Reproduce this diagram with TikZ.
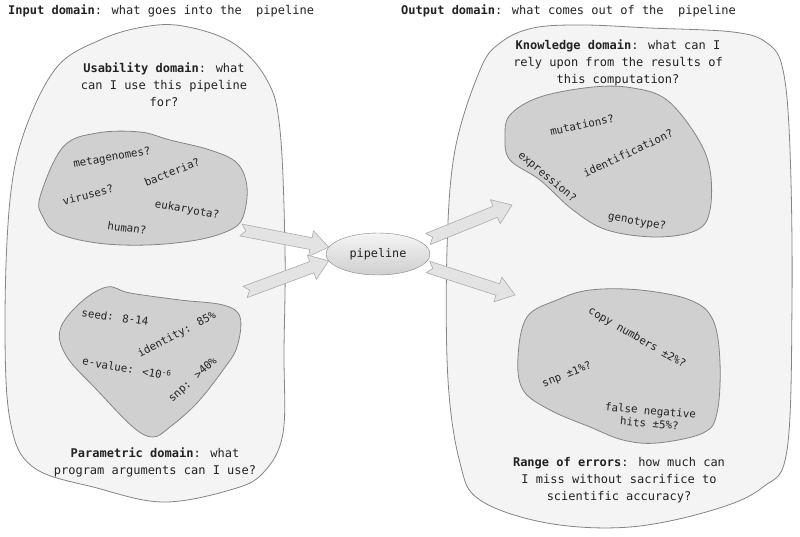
\documentclass[tikz,border=0pt]{standalone}
\usepackage{fontspec}
\setmainfont{DejaVu Sans Mono}
\usetikzlibrary{calc,shapes.geometric}

\definecolor{inkgray}{HTML}{222222}
\definecolor{edgegray}{HTML}{858585}
\definecolor{outerfill}{HTML}{F4F4F4}
\definecolor{innerfill}{HTML}{D0D0D0}

% fat block arrow from #1 to #2
\newcommand\fatarrow[2]{%
  \filldraw[fatarrow]
    ($(#1)!6pt!90:(#2)$) -- ($(#2)!18pt!(#1)!6pt!90:(#2)$)
    -- ($(#2)!18pt!(#1)!13pt!90:(#2)$) -- (#2)
    -- ($(#2)!18pt!(#1)!13pt!-90:(#2)$) -- ($(#2)!18pt!(#1)!6pt!-90:(#2)$)
    -- ($(#1)!6pt!-90:(#2)$) -- ($(#1)!5pt!(#2)$) -- cycle;}

\begin{document}
\begin{tikzpicture}[x=1pt,y=-1pt,
    outerblob/.style={draw=edgegray,fill=outerfill,line width=0.8pt},
    innerblob/.style={draw=edgegray,fill=innerfill,line width=0.8pt},
    fatarrow/.style={draw=gray!65,fill=gray!22,line width=0.6pt,line join=round},
    titletext/.style={text=inkgray,font=\fontsize{12}{14}\selectfont,anchor=west,inner sep=0pt},
    domaintext/.style={text=inkgray,font=\fontsize{12}{17}\selectfont,align=center,inner sep=0pt},
    tagtext/.style={text=inkgray,font=\fontsize{10.8}{13}\selectfont,inner sep=0pt,align=center},
    pipenode/.style={ellipse,draw=edgegray,top color=gray!8,bottom color=gray!38,
      minimum width=104pt,minimum height=42pt,text=inkgray,font=\fontsize{11.8}{14}\selectfont}]
  \useasboundingbox[fill=white] (0,0) rectangle (800,536);

  % Titles
  \node[titletext] (intitle) at (8,11) {\textbf{Input domain}: what goes into the\ \ pipeline};
  \node[titletext] (outtitle) at (401,11) {\textbf{Output domain}: what comes out of the\ \ pipeline};

  % Outer regions
  \draw[outerblob] plot[smooth cycle,tension=0.6] coordinates {
    (25,130) (57,67) (100,40) (143,27) (183,26) (233,43) (267,80) (280,130)
    (285,250) (284,350) (283,433) (263,473) (230,490) (163,502) (97,488)
    (33,467) (10,420) (5,320) (10,200)};
  \draw[outerblob] plot[smooth cycle,tension=0.6] coordinates {
    (480,70) (500,43) (533,28) (583,25) (650,28) (733,32) (767,43) (783,70)
    (790,150) (792,300) (787,450) (763,487) (713,510) (630,527) (547,523)
    (480,500) (460,463) (448,380) (447,250) (455,150)};

  % Inner regions
  \draw[innerblob] plot[smooth cycle,tension=0.6] coordinates {
    (40,197) (63,147) (97,133) (140,132) (170,140) (210,150) (237,163)
    (247,187) (243,217) (230,230) (197,240) (147,245) (97,243) (57,233) (43,217)};
  \draw[innerblob] plot[smooth cycle,tension=0.6] coordinates {
    (60,330) (80,303) (107,287) (130,293) (180,300) (223,305) (240,317)
    (237,347) (223,370) (197,403) (170,427) (153,437) (133,427) (97,390) (67,357)};
  \draw[innerblob] plot[smooth cycle,tension=0.6] coordinates {
    (510,115) (540,97) (593,87) (633,88) (667,100) (697,137) (710,170)
    (710,210) (697,230) (657,237) (607,230) (573,210) (540,180) (510,160) (505,137)};
  \draw[innerblob] plot[smooth cycle,tension=0.6] coordinates {
    (527,317) (557,300) (590,290) (640,290) (690,300) (713,320) (720,363)
    (717,413) (703,433) (657,443) (623,440) (590,427) (550,410) (523,390) (518,357)};

  % Domain captions
  \node[domaintext] (usability) at (164,85) {\textbf{Usability domain}: what\\can I use this pipeline\\for?};
  \node[domaintext] (parametric) at (155,462) {\textbf{Parametric domain}: what\\program arguments can I use?};
  \node[domaintext] (knowledge) at (618,63) {\textbf{Knowledge domain}: what can I\\rely upon from the results of\\this computation?};
  \node[domaintext] (errors) at (619,480) {\textbf{Range of errors}: how much can\\I miss without sacrifice to\\scientific accuracy?};

  % Usability tags
  \node[tagtext,rotate=10] (meta) at (112,158) {metagenomes?};
  \node[tagtext,rotate=22] (bact) at (172,172) {bacteria?};
  \node[tagtext,rotate=15] (vir) at (88,195) {viruses?};
  \node[tagtext,rotate=-10] (euk) at (187,210) {eukaryota?};
  \node[tagtext,rotate=-8] (hum) at (127,228) {human?};

  % Parametric tags
  \node[tagtext,rotate=-8] (seed) at (115,317) {seed: 8-14};
  \node[tagtext,rotate=28] (ident) at (177,335) {identity: 85\%};
  \node[tagtext,rotate=-10] (evalue) at (127,368) {e-value: <10\textsuperscript{-6}};
  \node[tagtext,rotate=42] (snpa) at (193,380) {snp: >40\%};

  % Knowledge tags
  \node[tagtext,rotate=12] (mut) at (582,125) {mutations?};
  \node[tagtext,rotate=25] (idf) at (628,153) {identification?};
  \node[tagtext,rotate=-40] (expr) at (547,177) {expression?};
  \node[tagtext,rotate=-10] (geno) at (637,222) {genotype?};

  % Error tags
  \node[tagtext,rotate=-30] (copy) at (637,338) {copy numbers ±2\%?};
  \node[tagtext,rotate=22] (snpb) at (567,375) {snp ±1\%?};
  \node[tagtext,rotate=-5] (fneg) at (650,417) {false negative\\hits ±5\%?};

  % Pipeline
  \node[pipenode] (pipe) at (378,254) {pipeline};

  % Arrow ends
  \coordinate (usabOut) at (241,230);
  \coordinate (paramOut) at (245,292);
  \coordinate (pipeOutA) at (428,239);
  \coordinate (pipeOutB) at (428,267);
  \coordinate (knowIn) at (512,205);
  \coordinate (errIn) at (515,295);

  \fatarrow{usabOut}{pipe.172}
  \fatarrow{paramOut}{pipe.188}
  \fatarrow{pipeOutA}{knowIn}
  \fatarrow{pipeOutB}{errIn}
\end{tikzpicture}
\end{document}
